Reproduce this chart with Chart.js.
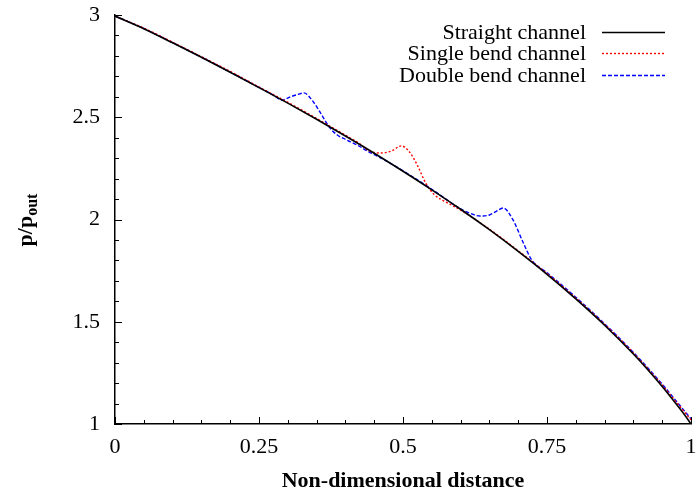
<!DOCTYPE html>
<html>
<head>
<meta charset="utf-8">
<script src="https://cdn.jsdelivr.net/npm/chart.js@4/dist/chart.umd.min.js"></script>
<style>
  html, body { margin: 0; padding: 0; background: #fff; }
  #wrap { width: 699px; height: 495px; }
</style>
</head>
<body>
<div id="wrap"><canvas id="chart" width="699" height="495"></canvas></div>
<script>
// data
const straightX = [0,0.05,0.1,0.15,0.2,0.25,0.3,0.35,0.4,0.45,0.5,0.55,0.6,0.65,0.7,0.75,0.8,0.85,0.9,0.925,0.95,0.975,0.99,1];
const straightY = [2.995,2.933,2.864,2.793,2.72,2.645,2.569,2.49,2.408,2.324,2.236,2.145,2.05,1.95,1.844,1.732,1.612,1.483,1.342,1.265,1.183,1.095,1.04,1.0];

const singleX = [0,0.05,0.1,0.15,0.2,0.25,0.3,0.35,0.4,0.425,0.44,0.46,0.48,0.497,0.51,0.525,0.54,0.555,0.575,0.6,0.65,0.7,0.75,0.8,0.85,0.9,0.95,0.975,1];
const singleY = [2.995,2.936,2.867,2.796,2.724,2.648,2.573,2.494,2.412,2.37,2.337,2.325,2.335,2.36,2.335,2.265,2.175,2.12,2.085,2.046,1.953,1.847,1.736,1.616,1.487,1.347,1.19,1.105,1.02];

const doubleX = [0,0.05,0.1,0.15,0.2,0.25,0.275,0.29,0.305,0.318,0.328,0.342,0.357,0.372,0.386,0.4,0.42,0.44,0.46,0.5,0.55,0.6,0.615,0.634,0.65,0.662,0.674,0.691,0.709,0.724,0.75,0.8,0.85,0.9,0.95,0.975,1];
const doubleY = [2.995,2.934,2.865,2.794,2.721,2.646,2.608,2.584,2.6,2.612,2.619,2.584,2.52,2.452,2.413,2.392,2.365,2.332,2.303,2.238,2.148,2.052,2.032,2.017,2.022,2.04,2.056,1.998,1.885,1.8,1.74,1.62,1.49,1.35,1.195,1.11,1.025];

const xTicks = [0,0.25,0.5,0.75,1];
const yTicks = [1,1.5,2,2.5,3];
const seriesNames = ['Straight channel','Single bend channel','Double bend channel'];
const seriesColors = ['#000000','#ff0000','#0000ff'];
const seriesDash = [[],[2,2],[4,2]];

const FONT = '"Liberation Serif", "Times New Roman", serif';

function pts(xs, ys) { return xs.map((x,i) => ({x:x, y:ys[i]})); }

const ds = [pts(straightX,straightY), pts(singleX,singleY), pts(doubleX,doubleY)].map((d,i) => ({
  label: seriesNames[i], data: d, showLine: true, pointRadius: 0,
  borderColor: seriesColors[i], borderWidth: i===0 ? 1.6 : 1.4, borderDash: seriesDash[i],
  cubicInterpolationMode: 'monotone', fill: false
}));

// inward ticks, axis titles, legend
const decor = {
  id: 'decor',
  afterDraw(chart) {
    const c = chart.ctx, xs = chart.scales.x, ys = chart.scales.y, a = chart.chartArea;
    c.save();
    c.strokeStyle = '#000'; c.lineWidth = 1;
    for (let i = 0; i <= 20; i++) {
      const v = i/20, px = Math.round(xs.getPixelForValue(v)) + 0.5;
      const len = (i % 5 === 0) ? 7 : 4;
      c.beginPath(); c.moveTo(px, a.bottom); c.lineTo(px, a.bottom - len); c.stroke();
    }
    for (let i = 0; i <= 20; i++) {
      const v = 1 + i/10, py = Math.round(ys.getPixelForValue(v)) + 0.5;
      const len = (i % 5 === 0) ? 7 : 4;
      c.beginPath(); c.moveTo(a.left, py); c.lineTo(a.left + len, py); c.stroke();
    }
    // x title
    c.fillStyle = '#000';
    c.font = 'bold 22px ' + FONT;
    c.textAlign = 'center'; c.textBaseline = 'middle';
    c.fillText('Non-dimensional distance', (a.left + a.right)/2, 481);
    // y title with subscript
    c.translate(27, 220);
    c.rotate(-Math.PI/2);
    c.font = 'bold 22px ' + FONT;
    const w1 = c.measureText('p/p').width;
    c.font = 'bold 16px ' + FONT;
    const w2 = c.measureText('out').width;
    const start = -(w1 + w2)/2;
    c.textAlign = 'left'; c.textBaseline = 'alphabetic';
    c.font = 'bold 22px ' + FONT;
    c.fillText('p/p', start, 5);
    c.font = 'bold 16px ' + FONT;
    c.fillText('out', start + w1, 10);
    c.restore();
    // legend
    c.save();
    c.font = '22px ' + FONT;
    c.textAlign = 'right'; c.textBaseline = 'middle';
    const rows = [32, 53, 75];
    seriesNames.forEach((n,i) => {
      c.fillStyle = '#000';
      c.fillText(n, 586, rows[i] + 1);
      c.strokeStyle = seriesColors[i]; c.lineWidth = i===0 ? 1.6 : 1.4;
      c.setLineDash(seriesDash[i]);
      c.beginPath(); c.moveTo(602, rows[i] + 0.5); c.lineTo(665, rows[i] + 0.5); c.stroke();
    });
    c.restore();
  }
};

new Chart(document.getElementById('chart'), {
  type: 'scatter',
  data: { datasets: ds },
  options: {
    responsive: false, animation: false, devicePixelRatio: 1,
    layout: { padding: { top: 15, right: 8, left: 0, bottom: 0 } },
    plugins: { legend: { display: false }, tooltip: { enabled: false } },
    scales: {
      x: {
        type: 'linear', min: 0, max: 1,
        afterBuildTicks: s => { s.ticks = xTicks.map(v => ({value: v})); },
        afterFit: s => { s.height = 71; s.paddingLeft = 0; s.paddingRight = 0; },
        grid: { display: false, drawTicks: false },
        border: { display: true, color: '#000', width: 1.5 },
        ticks: { color: '#000', font: { family: FONT, size: 22 }, padding: 10, maxRotation: 0,
                 callback: v => String(v) }
      },
      y: {
        type: 'linear', min: 1, max: 3,
        afterBuildTicks: s => { s.ticks = yTicks.map(v => ({value: v})); },
        afterFit: s => { s.width = 115; s.paddingTop = 0; s.paddingBottom = 0; },
        grid: { display: false, drawTicks: false },
        border: { display: true, color: '#000', width: 1.5 },
        ticks: { color: '#000', font: { family: FONT, size: 22 }, padding: 15,
                 callback: v => String(v) }
      }
    }
  },
  plugins: [decor]
});
</script>
</body>
</html>
